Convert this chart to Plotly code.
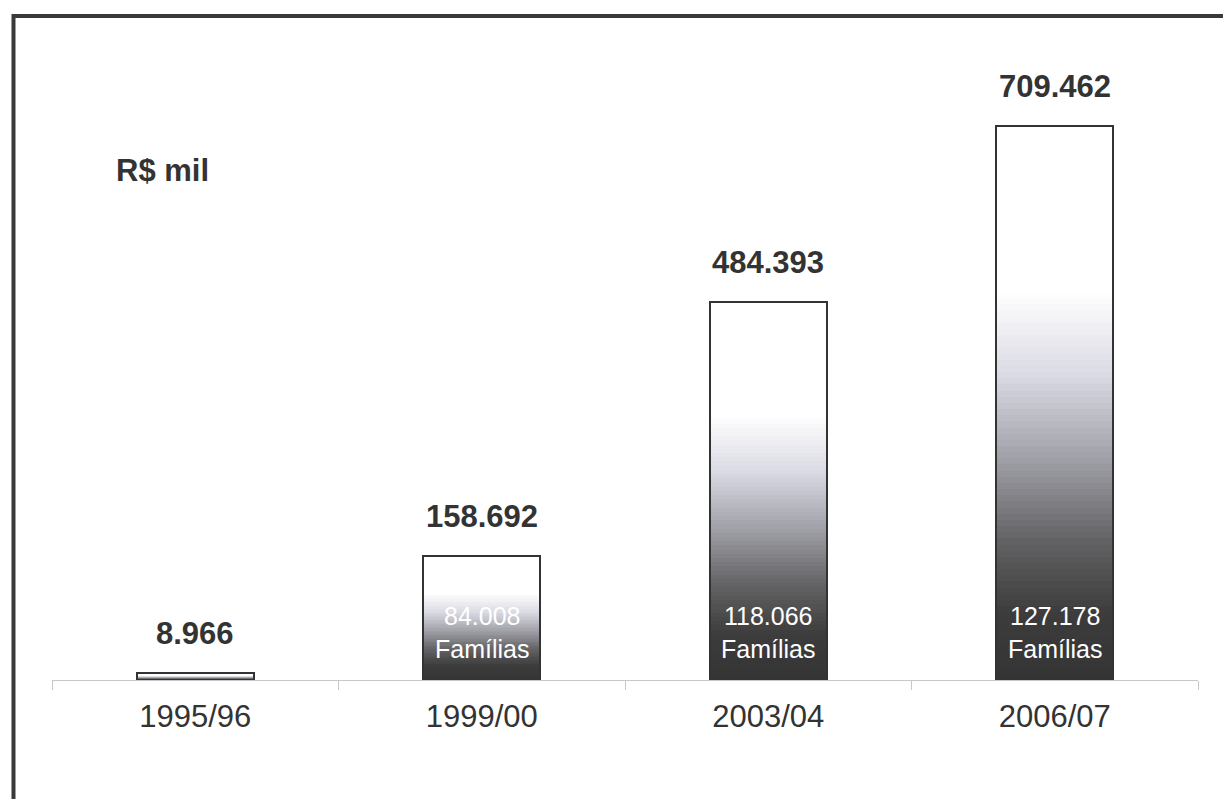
import plotly.graph_objects as go

# ---- data ----
categories = ["1995/96", "1999/00", "2003/04", "2006/07"]
values = [8966, 158692, 484393, 709462]
value_labels = ["8.966", "158.692", "484.393", "709.462"]
family_counts = [None, "84.008", "118.066", "127.178"]
unit_label = "R$ mil"

# ---- style ----
FONT = "Liberation Sans, Arial, sans-serif"
DARK = "#333333"
N = 90
grad_stops = [
    (0.00, (52, 52, 52)),
    (0.12, (60, 60, 60)),
    (0.25, (98, 98, 100)),
    (0.40, (160, 160, 168)),
    (0.55, (218, 218, 228)),
    (0.70, (255, 255, 255)),
    (1.00, (255, 255, 255)),
]


def grad_color(t):
    for (t0, c0), (t1, c1) in zip(grad_stops[:-1], grad_stops[1:]):
        if t0 <= t <= t1:
            f = (t - t0) / (t1 - t0) if t1 > t0 else 0
            c = [round(a + (b - a) * f) for a, b in zip(c0, c1)]
            return f"rgb({c[0]},{c[1]},{c[2]})"
    return "rgb(255,255,255)"


BAR_W = 0.41
fig = go.Figure()

# gradient fill built as stacked slices of each bar
for k in range(N):
    fig.add_trace(go.Bar(
        x=categories,
        y=[v / N for v in values],
        base=[v * k / N for v in values],
        width=BAR_W,
        marker=dict(color=grad_color((k + 0.5) / N), line=dict(width=0)),
        hoverinfo="skip",
        showlegend=False,
    ))

# outline
fig.add_trace(go.Bar(
    x=categories,
    y=values,
    width=BAR_W,
    marker=dict(color="rgba(0,0,0,0)", line=dict(color=DARK, width=2)),
    hoverinfo="skip",
    showlegend=False,
))

# value labels above bars
for c, v, lab in zip(categories, values, value_labels):
    fig.add_annotation(
        x=c, y=v, text=f"<b>{lab}</b>", showarrow=False,
        yanchor="bottom", yshift=20,
        font=dict(family=FONT, size=31, color=DARK),
    )

# family counts inside bars
for c, f in zip(categories, family_counts):
    if f is None:
        continue
    fig.add_annotation(
        x=c, y=0, text=f"{f}<br>Famílias", showarrow=False,
        yanchor="bottom", yshift=15,
        font=dict(family=FONT, size=25, color="white"),
    )

# unit label
fig.add_annotation(
    xref="paper", yref="paper", x=0.054, y=0.815,
    text=f"<b>{unit_label}</b>", showarrow=False,
    xanchor="left", yanchor="middle",
    font=dict(family=FONT, size=31, color=DARK),
)

# outer frame (top and left only visible)
fig.add_shape(type="path", xref="paper", yref="paper",
              path="M -0.0336 -0.25 L -0.0336 1.0625 L 1.06 1.0625",
              line=dict(color="#3a3a3a", width=4))

fig.update_layout(
    width=1223, height=799,
    margin=dict(l=52, r=25, t=55, b=119),
    paper_bgcolor="white", plot_bgcolor="white",
    barmode="overlay",
    bargap=0,
    showlegend=False,
    font=dict(family=FONT, color=DARK),
    xaxis=dict(
        type="category", range=[-0.5, 3.5],
        showline=True, linecolor="#c8c8c8", linewidth=1,
        ticks="outside", tickson="boundaries", ticklen=9,
        tickcolor="#c8c8c8", tickwidth=1,
        ticklabelstandoff=9,
        showgrid=False, zeroline=False,
        tickfont=dict(family=FONT, size=31, color=DARK),
    ),
    yaxis=dict(range=[0, 800000], visible=False, showgrid=False, zeroline=False),
)

fig.write_html("out.html")
